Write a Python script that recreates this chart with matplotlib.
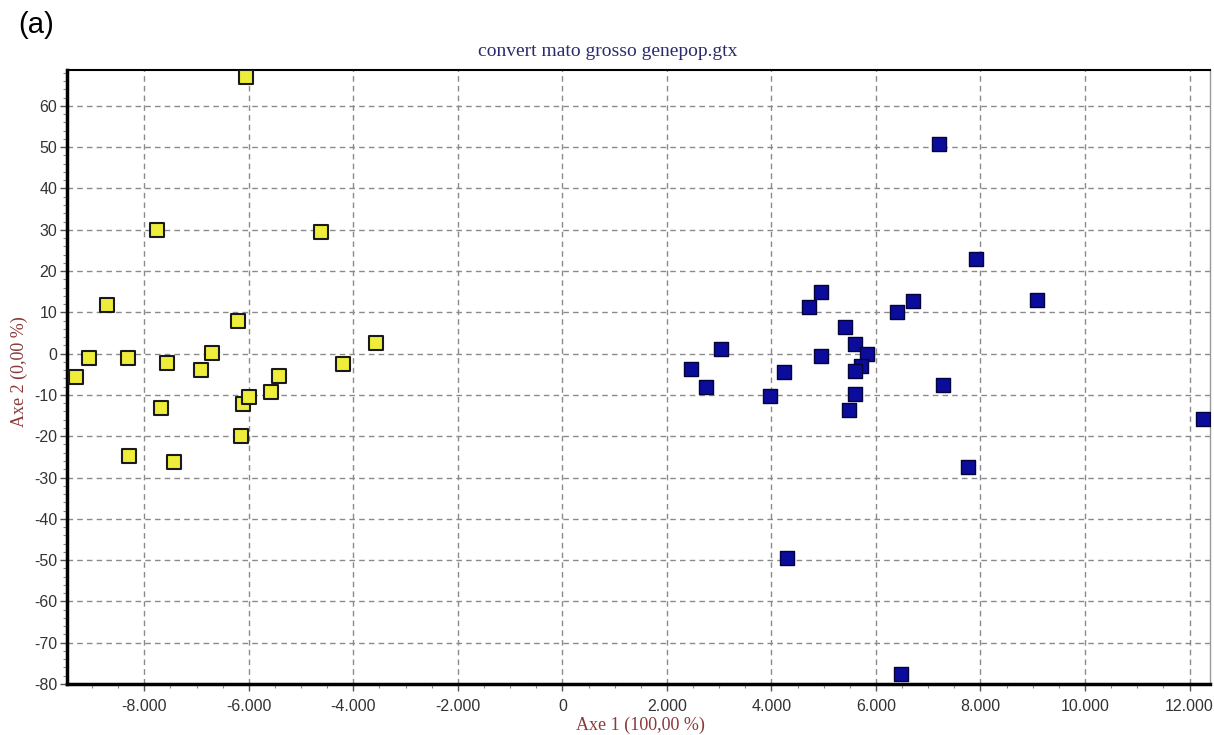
import matplotlib
matplotlib.use("Agg")
import matplotlib.pyplot as plt
from matplotlib.ticker import MultipleLocator, FuncFormatter

plt.rcParams["axes.unicode_minus"] = False

# ---- data ----
yellow_x = [-9307, -9053, -8708, -8318, -8287, -7763, -7686, -7571, -7432, -6909,
            -6710, -6207, -6111, -6002, -6144, -6054, -5569, -5422, -4619, -4203, -3571]
yellow_y = [-5.6, -1.0, 11.9, -1.0, -24.8, 29.9, -13.2, -2.2, -26.2, -3.9,
            0.2, 7.9, -12.3, -10.4, -20.0, 67.0, -9.4, -5.3, 29.4, -2.5, 2.6]

blue_x = [7911, 9079, 4949, 4722, 6715, 6399, 5402, 5601, 5835, 4949,
          3038, 2454, 2749, 4234, 3979, 5718, 5601, 5601, 5491, 7292,
          12261, 7767, 7210, 4300, 6476]
blue_y = [22.9, 13.1, 15.0, 11.2, 12.8, 10.2, 6.5, 2.4, 0.0, -0.5,
          1.1, -3.7, -8.0, -4.5, -10.2, -2.9, -4.1, -9.8, -13.6, -7.6,
          -15.8, -27.5, 50.8, -49.5, -77.6]

x_ticks = [-8000, -6000, -4000, -2000, 0, 2000, 4000, 6000, 8000, 10000, 12000]
y_ticks = [-80, -70, -60, -50, -40, -30, -20, -10, 0, 10, 20, 30, 40, 50, 60]

title = "convert mato grosso genepop.gtx"
xlabel = "Axe 1 (100,00 %)"
ylabel = "Axe 2 (0,00 %)"
panel = "(a)"

# ---- figure ----
fig = plt.figure(figsize=(12.14, 7.35), dpi=100)
ax = fig.add_axes([0.0552, 0.0694, 0.9415, 0.8354])

ax.set_xlim(-9479, 12392)
ax.set_ylim(-80, 68.7)

ax.grid(True, which="major", color="#8a8a8a", linestyle=(0, (4, 3)), linewidth=1.0, zorder=0)
ax.set_axisbelow(True)

ax.scatter(yellow_x, yellow_y, marker="s", s=110, facecolor="#eeee3a",
           edgecolor="#1a1a1a", linewidth=1.5, zorder=3)
ax.scatter(blue_x, blue_y, marker="s", s=98, facecolor="#0c0c9c",
           edgecolor="#04043a", linewidth=1.0, zorder=3)

ax.set_xticks(x_ticks)
ax.set_yticks(y_ticks)
ax.xaxis.set_minor_locator(MultipleLocator(500))
ax.yaxis.set_minor_locator(MultipleLocator(2))

def thousands(v, pos):
    return f"{int(round(v)):,}".replace(",", ".")
ax.xaxis.set_major_formatter(FuncFormatter(thousands))
ax.yaxis.set_major_formatter(FuncFormatter(lambda v, p: f"{int(round(v))}"))

ax.tick_params(axis="both", which="major", labelsize=11.5, labelcolor="#333333",
               color="#555555", length=5, width=1, direction="out")
ax.tick_params(axis="both", which="minor", color="#888888", length=3, width=0.8,
               direction="out")
ax.tick_params(axis="x", pad=6)
ax.tick_params(axis="y", pad=2)
for lab in ax.get_xticklabels() + ax.get_yticklabels():
    lab.set_fontfamily("Liberation Sans")

ax.spines["left"].set_linewidth(2.5)
ax.spines["left"].set_color("black")
ax.spines["bottom"].set_linewidth(2.5)
ax.spines["bottom"].set_color("black")
ax.spines["top"].set_linewidth(1.5)
ax.spines["top"].set_color("black")
ax.spines["right"].set_linewidth(1.0)
ax.spines["right"].set_color("#999999")

fig.text(0.5008, 1 - 52 / 735, title, ha="center", va="center",
         family="Liberation Serif", fontsize=14, color="#2b2b6b",
         bbox=dict(facecolor="white", edgecolor="none", pad=1))
fig.text(640 / 1214, 1 - 725 / 735, xlabel, ha="center", va="center",
         family="Liberation Serif", fontsize=13, color="#8b3a3a")
fig.text(19 / 1214, 1 - 372 / 735, ylabel, ha="center", va="center", rotation=90,
         family="Liberation Serif", fontsize=13, color="#8b3a3a")
fig.text(18 / 1214, 1 - 25 / 735, panel, ha="left", va="center",
         family="Liberation Sans", fontsize=21, color="black")

fig.savefig("out.png", dpi=100)
